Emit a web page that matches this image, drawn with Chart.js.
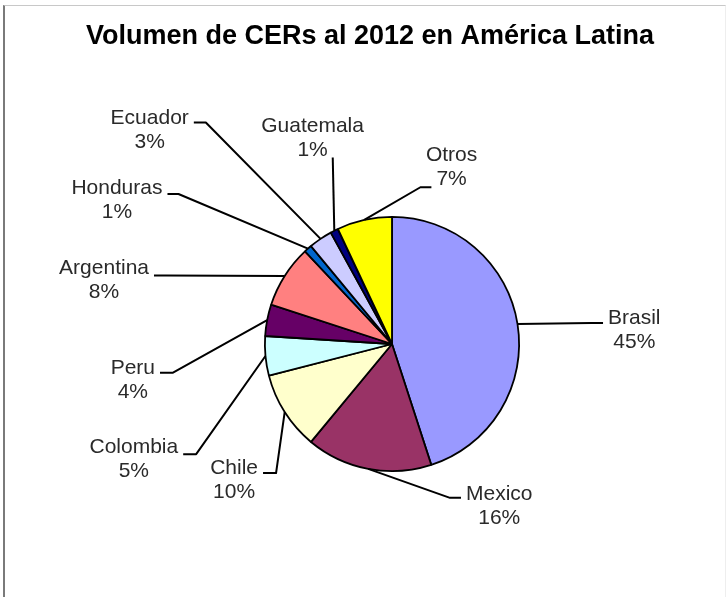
<!DOCTYPE html>
<html>
<head>
<meta charset="utf-8">
<script src="https://cdn.jsdelivr.net/npm/chart.js@4/dist/chart.umd.min.js"></script>
<style>
  html, body { margin: 0; padding: 0; background: #fff; }
  #wrap { position: relative; width: 727px; height: 597px; }
  #frame { position: absolute; left: 3px; top: 5px; right: 1px; bottom: -2px;
           border-left: 2px solid #7a7a7a; border-top: 1px solid #c8c8c8; border-right: 1px solid #eeeeee; }
  canvas { position: absolute; left: 0; top: 0; }
</style>
</head>
<body>
<div id="wrap">
  <div id="frame"></div>
  <canvas id="pieChart" width="727" height="597"></canvas>
</div>
<script>
// Data
const countries = ['Brasil', 'Mexico', 'Chile', 'Colombia', 'Peru', 'Argentina', 'Honduras', 'Ecuador', 'Guatemala', 'Otros'];
const shares = [45, 16, 10, 5, 4, 8, 1, 3, 1, 7];
const sliceColors = ['#9999FF', '#993366', '#FFFFCC', '#CCFFFF', '#660066', '#FF8080', '#0066CC', '#CCCCFF', '#000080', '#FFFF00'];
const chartTitle = 'Volumen de CERs al 2012 en América Latina';

// Label block centres, relative to pie centre (px at radius 128)
const labelOffsets = [
  [244, -14], [108, 163], [-159, 137], [-260, 116], [-261, 36],
  [-290, -64], [-277, -145], [-244, -215], [-80, -207], [60, -178]
];
// Where the leader line meets each label
const labelAnchors = [
  { side: 'left', line: 0, dy: 5, stub: 12 },
  { side: 'left', line: 0, dy: 4, stub: 11 },
  { side: 'right', line: 0, dy: 5, stub: 13 },
  { side: 'right', line: 0, dy: 7, stub: 13 },
  { side: 'right', line: 0, dy: 5, stub: 13 },
  { side: 'right', line: 0, dy: 7, stub: 12 },
  { side: 'right', line: 0, dy: 6, stub: 11 },
  { side: 'right', line: 0, dy: 4, stub: 12 },
  { side: 'right', line: 1, dy: 7, stub: 0 },
  { side: 'left', line: 1, dy: 8, stub: 11 }
];

const labelFont = '21px "Liberation Sans", Arial, sans-serif';
const lineGap = 24;

const leaderLabels = {
  id: 'leaderLabels',
  afterDatasetsDraw(chart) {
    const ctx = chart.ctx;
    const meta = chart.getDatasetMeta(0);
    const total = shares.reduce((a, b) => a + b, 0);
    ctx.save();
    ctx.font = labelFont;
    meta.data.forEach((arc, i) => {
      const p = arc.getProps(['x', 'y', 'startAngle', 'endAngle', 'outerRadius'], true);
      const s = p.outerRadius / 128;
      const mid = (p.startAngle + p.endAngle) / 2;
      const ax = p.x + Math.cos(mid) * p.outerRadius;
      const ay = p.y + Math.sin(mid) * p.outerRadius;
      const cx = p.x + labelOffsets[i][0] * s;
      const cy = p.y + labelOffsets[i][1] * s;
      const lines = [countries[i], Math.round(shares[i] / total * 100) + '%'];
      const ys = [cy - lineGap / 2, cy + lineGap / 2];
      const an = labelAnchors[i];
      const w = ctx.measureText(lines[an.line]).width;
      const ey = ys[an.line] + an.dy;
      let ex, sx;
      if (an.side === 'left') {
        ex = cx - w / 2 - 5;
        sx = ex - an.stub;
      } else {
        ex = cx + w / 2 + 5;
        sx = ex + an.stub;
      }
      ctx.strokeStyle = '#000';
      ctx.lineWidth = 2;
      ctx.lineJoin = 'round';
      ctx.beginPath();
      ctx.moveTo(ax, ay);
      ctx.lineTo(sx, ey);
      ctx.lineTo(ex, ey);
      ctx.stroke();

      ctx.fillStyle = '#2a2a2a';
      ctx.textAlign = 'center';
      ctx.textBaseline = 'middle';
      lines.forEach((t, k) => ctx.fillText(t, cx, ys[k]));
    });
    // chart title
    ctx.font = 'bold 27px "Liberation Sans", Arial, sans-serif';
    ctx.fillStyle = '#000';
    ctx.textAlign = 'center';
    ctx.textBaseline = 'alphabetic';
    ctx.fillText(chartTitle, 370, 44);
    ctx.restore();
  }
};

const pieCtx = document.getElementById('pieChart').getContext('2d');
const pieChart = new Chart(pieCtx, {
  type: 'pie',
  data: {
    labels: countries,
    datasets: [
      {
        data: shares,
        backgroundColor: sliceColors,
        borderColor: '#000',
        borderWidth: 1.8,
      },
    ],
  },
  options: {
    responsive: false,
    animation: false,
    layout: {
      padding: { left: 264, right: 207, top: 216, bottom: 125 },
    },
    plugins: {
      legend: { display: false },
      title: { display: false },
      tooltip: { enabled: false },
    },
  },
  plugins: [leaderLabels],
});
</script>
</body>
</html>
